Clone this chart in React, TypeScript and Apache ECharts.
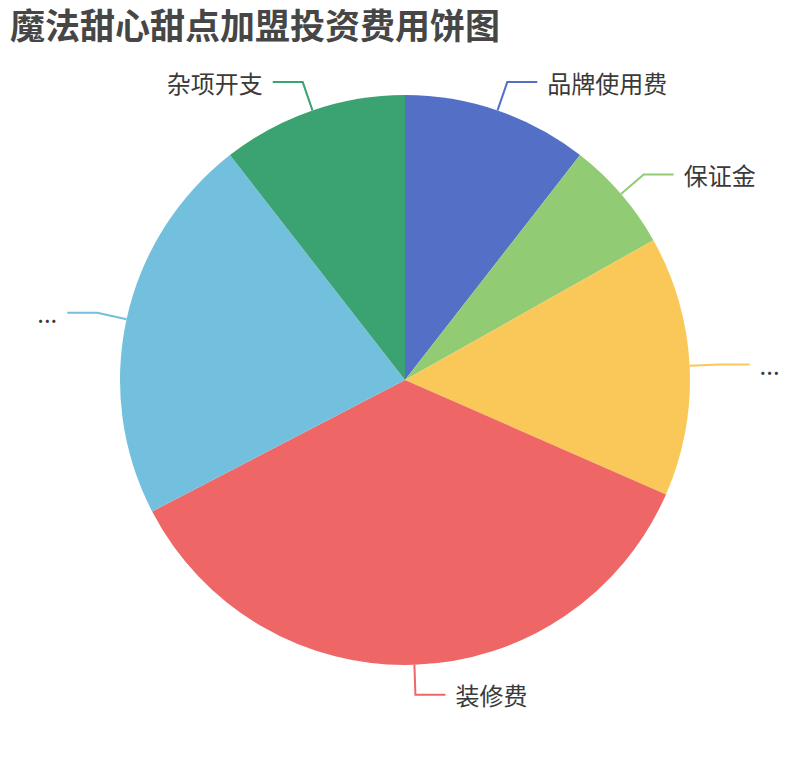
import React, {useRef, useEffect} from 'react';
import * as echarts from 'echarts';

const titleText = '魔法甜心甜点加盟投资费用饼图';
const names = ['品牌使用费', '保证金', '设备采购费', '装修费', '房租及人工费', '杂项开支'];
const values = [2, 1.2, 2.8, 6.8, 4.2, 2];
const colors = ['#5470c6', '#91cc75', '#fac858', '#ee6666', '#73c0de', '#3ba272'];

const App = () => {
    const ref = useRef<HTMLDivElement>(null);

    useEffect(() => {
        const chart = echarts.init(ref.current as HTMLDivElement, null, {renderer: 'svg'});
        chart.setOption({
            animation: false,
            color: colors,
            title: {
                text: titleText,
                left: 0,
                top: -3,
                padding: [0, 2, 0, 2],
                textStyle: {
                    fontSize: 35,
                    fontWeight: 'bold',
                    color: '#464646',
                    fontFamily: 'Noto Sans CJK SC',
                    lineHeight: 36
                }
            },
            series: [
                {
                    type: 'pie',
                    center: ['50%', '50%'],
                    radius: 285,
                    startAngle: 90,
                    clockwise: true,
                    data: names.map((name, i) => ({name, value: values[i]})),
                    label: {
                        fontSize: 24,
                        lineHeight: 24,
                        color: '#3a3a3a',
                        fontFamily: 'Noto Sans CJK SC',
                        distanceToLabelLine: 10,
                        padding: [0, 0, 8, 0]
                    },
                    labelLine: {
                        length: 30,
                        length2: 30,
                        lineStyle: {width: 2}
                    },
                    itemStyle: {borderWidth: 0}
                }
            ]
        });
        return () => chart.dispose();
    }, []);

    return <div ref={ref} style={{width: '100%', height: 744}}></div>;
};

export default App;
